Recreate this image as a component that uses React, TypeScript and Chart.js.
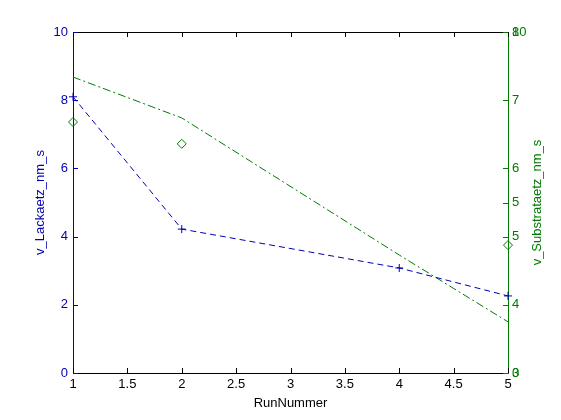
import React, { useEffect, useRef } from "react";
import { Chart, registerables } from "chart.js";

Chart.register(...registerables);

const runNummer = [1, 2, 4, 5];
const lackaetz = [8.1, 4.22, 3.08, 2.26];
const substrataetz = [7.34, 6.74, 4.73, 3.75];
const markerRuns = [1, 2, 5];
const markerValues = [7.36, 6.72, 3.75];

const xTicks = [1, 1.5, 2, 2.5, 3, 3.5, 4, 4.5, 5];
const leftTicks = [0, 2, 4, 6, 8, 10];
const rightTicksA = [3, 4, 5, 6, 7, 8];
const rightTicksB = [0, 5, 10];

const BLUE = "#0000b4";
const GREEN = "#007a00";
const FONT = { family: "'Liberation Sans', Arial, sans-serif", size: 13 };

export default function App() {
  const ref = useRef<HTMLCanvasElement | null>(null);

  useEffect(() => {
    document.body.style.margin = "0";
    const canvas = ref.current;
    if (!canvas) return;

    const axisPlugin = {
      id: "matlabAxes",
      afterLayout(chart: any) {
        const s = chart.scales.y2;
        if (s) {
          s.right = chart.width;
          s.width = s.right - s.left;
        }
      },
      afterDraw(chart: any) {
        const { ctx, chartArea, scales } = chart;
        const { left, right, top, bottom } = chartArea;
        const L = 5;
        ctx.save();
        ctx.lineWidth = 1;
        ctx.strokeStyle = "#000";
        ctx.beginPath();
        ctx.moveTo(left, Math.round(top) + 0.5);
        ctx.lineTo(right, Math.round(top) + 0.5);
        ctx.stroke();
        ctx.beginPath();
        xTicks.forEach((v) => {
          const px = Math.round(scales.x.getPixelForValue(v)) + 0.5;
          ctx.moveTo(px, bottom);
          ctx.lineTo(px, bottom - L);
          ctx.moveTo(px, top);
          ctx.lineTo(px, top + L);
        });
        ctx.stroke();
        ctx.strokeStyle = BLUE;
        ctx.beginPath();
        leftTicks.forEach((v) => {
          const py = Math.round(scales.y.getPixelForValue(v)) + 0.5;
          ctx.moveTo(left, py);
          ctx.lineTo(left + L, py);
        });
        ctx.stroke();
        ctx.strokeStyle = GREEN;
        ctx.beginPath();
        rightTicksA.forEach((v) => {
          const py = Math.round(scales.y2.getPixelForValue(v)) + 0.5;
          ctx.moveTo(right, py);
          ctx.lineTo(right - L, py);
        });
        rightTicksB.forEach((v) => {
          const py = Math.round(scales.y3.getPixelForValue(v)) + 0.5;
          ctx.moveTo(right, py);
          ctx.lineTo(right - L, py);
        });
        ctx.stroke();
        ctx.fillStyle = GREEN;
        ctx.font = `${FONT.size}px ${FONT.family}`;
        ctx.textAlign = "center";
        ctx.textBaseline = "middle";
        ctx.translate(537, (top + bottom) / 2);
        ctx.rotate(-Math.PI / 2);
        ctx.fillText("v_Substrataetz_nm_s", 0, 0);
        ctx.restore();
      },
    };

    const fmt = (v: any) => String(Number(v));

    const chart = new Chart(canvas, {
      type: "line",
      data: {
        datasets: [
          {
            label: "v_Lackaetz_nm_s",
            data: runNummer.map((x, i) => ({ x, y: lackaetz[i] })),
            yAxisID: "y",
            borderColor: BLUE,
            borderWidth: 1,
            borderDash: [6, 4],
            pointStyle: "cross",
            pointRadius: 4,
            pointBorderWidth: 1,
            pointBorderColor: BLUE,
            tension: 0,
            clip: false,
          },
          {
            label: "v_Substrataetz_nm_s",
            data: runNummer.map((x, i) => ({ x, y: substrataetz[i] })),
            yAxisID: "y2",
            borderColor: GREEN,
            borderWidth: 1,
            borderDash: [8, 3, 2, 3],
            pointRadius: 0,
            tension: 0,
            clip: false,
          },
          {
            label: "marker",
            data: markerRuns.map((x, i) => ({ x, y: markerValues[i] })),
            yAxisID: "y3",
            showLine: false,
            pointStyle: "rectRot",
            pointRadius: 4.5,
            pointBorderWidth: 1,
            pointBorderColor: GREEN,
            pointBackgroundColor: "rgba(0,0,0,0)",
            borderColor: GREEN,
            clip: false,
          },
        ],
      },
      options: {
        responsive: false,
        animation: false,
        layout: { padding: { top: 32, left: 0, right: 0, bottom: 0 } },
        plugins: { legend: { display: false }, tooltip: { enabled: false } },
        scales: {
          x: {
            type: "linear",
            min: 1,
            max: 5,
            afterBuildTicks: (s: any) => {
              s.ticks = xTicks.map((v) => ({ value: v }));
            },
            afterFit: (s: any) => {
              s.height = 47;
            },
            grid: { display: true, drawOnChartArea: false, drawTicks: false },
            border: { display: true, color: "#000" },
            ticks: { color: "#000", font: FONT, padding: 4, maxRotation: 0, autoSkip: false, callback: fmt },
            title: { display: true, text: "RunNummer", color: "#000", font: FONT, padding: { top: 0, bottom: 9 } },
          },
          y: {
            type: "linear",
            position: "left",
            min: 0,
            max: 10,
            afterBuildTicks: (s: any) => {
              s.ticks = leftTicks.map((v) => ({ value: v }));
            },
            afterFit: (s: any) => {
              s.width = 73;
            },
            grid: { display: true, drawOnChartArea: false, drawTicks: false },
            border: { display: true, color: BLUE },
            ticks: { color: BLUE, font: FONT, padding: 5, callback: fmt },
            title: { display: true, text: "v_Lackaetz_nm_s", color: BLUE, font: FONT, padding: { top: 33, bottom: 0 } },
          },
          y2: {
            type: "linear",
            position: "right",
            weight: 0,
            min: 3,
            max: 8,
            afterBuildTicks: (s: any) => {
              s.ticks = rightTicksA.map((v) => ({ value: v }));
            },
            afterFit: (s: any) => {
              s.width = 0;
            },
            grid: { display: true, drawOnChartArea: false, drawTicks: false },
            border: { display: true, color: GREEN },
            ticks: { color: GREEN, font: FONT, padding: 4, callback: fmt },
          },
          y3: {
            type: "linear",
            position: "right",
            weight: 1,
            min: 0,
            max: 10,
            afterBuildTicks: (s: any) => {
              s.ticks = rightTicksB.map((v) => ({ value: v }));
            },
            afterFit: (s: any) => {
              s.width = 53;
            },
            grid: { display: true, drawOnChartArea: false, drawTicks: false },
            border: { display: true, color: GREEN },
            ticks: { color: GREEN, font: FONT, padding: 4, callback: fmt },
          },
        },
      },
      plugins: [axisPlugin],
    } as any);

    return () => chart.destroy();
  }, []);

  return (
    <div style={{ width: 561, height: 420, background: "#fff" }}>
      <canvas ref={ref} width={561} height={420} />
    </div>
  );
}
